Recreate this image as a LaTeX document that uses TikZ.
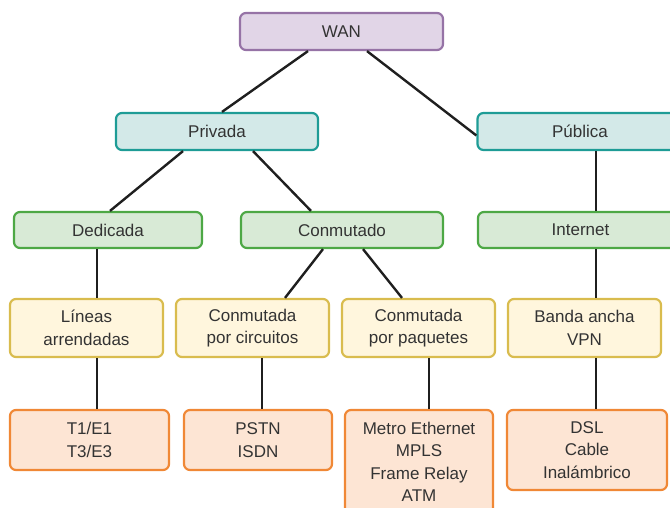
\documentclass[tikz,border=0pt]{standalone}
\usepackage{fontspec}
\setmainfont{Liberation Sans}
\definecolor{txt}{HTML}{333333}
\definecolor{purpleFill}{HTML}{E1D5E7}
\definecolor{purpleLine}{HTML}{9673A6}
\definecolor{tealFill}{HTML}{D3E9E8}
\definecolor{tealLine}{HTML}{1E9C96}
\definecolor{greenFill}{HTML}{D8EAD6}
\definecolor{greenLine}{HTML}{4DA845}
\definecolor{yellowFill}{HTML}{FFF6DD}
\definecolor{yellowLine}{HTML}{D9BC4E}
\definecolor{orangeFill}{HTML}{FDE5D4}
\definecolor{orangeLine}{HTML}{F08836}
\tikzset{
  box/.style={rounded corners=6pt, line width=2.2pt, align=center, text=txt,
    font=\fontsize{17}{22.4}\selectfont, inner sep=0pt, anchor=center},
  lvlA/.style={box, fill=purpleFill, draw=purpleLine},
  lvlB/.style={box, fill=tealFill, draw=tealLine},
  lvlC/.style={box, fill=greenFill, draw=greenLine},
  lvlD/.style={box, fill=yellowFill, draw=yellowLine},
  lvlE/.style={box, fill=orangeFill, draw=orangeLine},
  link/.style={line width=2.4pt, draw=black!88}
}
\begin{document}
\begin{tikzpicture}[x=1pt,y=-1pt]
\useasboundingbox (0,0) rectangle (670,508);
\clip (0,0) rectangle (670,508);

% level 0
\node[lvlA, minimum width=203pt, minimum height=37pt] (wan) at (341.5,31.5) {WAN};

% level 1
\node[lvlB, minimum width=202pt, minimum height=37pt] (priv) at (217,131.5) {Privada};
\node[lvlB, minimum width=205pt, minimum height=37pt] (pub) at (580,131.5) {Pública};

% level 2
\node[lvlC, minimum width=188pt, minimum height=36pt] (ded) at (108,230) {Dedicada};
\node[lvlC, minimum width=202pt, minimum height=36pt] (conm) at (342,230) {Conmutado};
\node[lvlC, minimum width=205pt, minimum height=36pt] (inet) at (580.5,230) {Internet};

% level 3
\node[lvlD, minimum width=153pt, minimum height=58pt] (lin) at (86.5,328) {Líneas\\arrendadas};
\node[lvlD, minimum width=153pt, minimum height=58pt] (circ) at (252.5,328) {Conmutada\\por circuitos};
\node[lvlD, minimum width=153pt, minimum height=58pt] (paq) at (418.5,328) {Conmutada\\por paquetes};
\node[lvlD, minimum width=153pt, minimum height=58pt] (banda) at (584.5,328) {Banda ancha\\VPN};

% level 4
\node[lvlE, minimum width=159pt, minimum height=60pt] (tone) at (89.5,440) {T1/E1\\T3/E3};
\node[lvlE, minimum width=148pt, minimum height=60pt] (pstn) at (258,440) {PSTN\\ISDN};
\node[lvlE, minimum width=148pt, minimum height=104pt] (metro) at (419,462) {Metro Ethernet\\MPLS\\Frame Relay\\ATM};
\node[lvlE, minimum width=160pt, minimum height=80pt] (dsl) at (587,450) {DSL\\Cable\\Inalámbrico};

% connectors
\draw[link] ([xshift=-33.5pt]wan.south) -- ([xshift=5pt]priv.north);
\draw[link] ([xshift=25.5pt]wan.south) -- ([yshift=-4pt]pub.west);
\draw[link] ([xshift=-34pt]priv.south) -- ([xshift=2pt]ded.north);
\draw[link] ([xshift=36pt]priv.south) -- ([xshift=-31pt]conm.north);
\draw[link] ([xshift=-19pt]conm.south) -- ([xshift=32.5pt]circ.north);
\draw[link] ([xshift=21pt]conm.south) -- ([xshift=-16.5pt]paq.north);
\draw[link] (pub.south -| banda.north) ++(11.5pt,0) coordinate (pubfoot) -- (pubfoot |- inet.north);
\draw[link] (pubfoot |- inet.south) -- (pubfoot |- banda.north);
\draw[link] (pubfoot |- banda.south) -- (pubfoot |- dsl.north);
\draw[link] ([xshift=-11pt]ded.south) -- ([xshift=-11pt]ded.south |- lin.north);
\draw[link] ([xshift=-11pt]ded.south |- lin.south) -- ([xshift=-11pt]ded.south |- tone.north);
\draw[link] ([xshift=9.5pt]circ.south) -- ([xshift=9.5pt]circ.south |- pstn.north);
\draw[link] ([xshift=10.5pt]paq.south) -- ([xshift=10.5pt]paq.south |- metro.north);
\end{tikzpicture}
\end{document}
